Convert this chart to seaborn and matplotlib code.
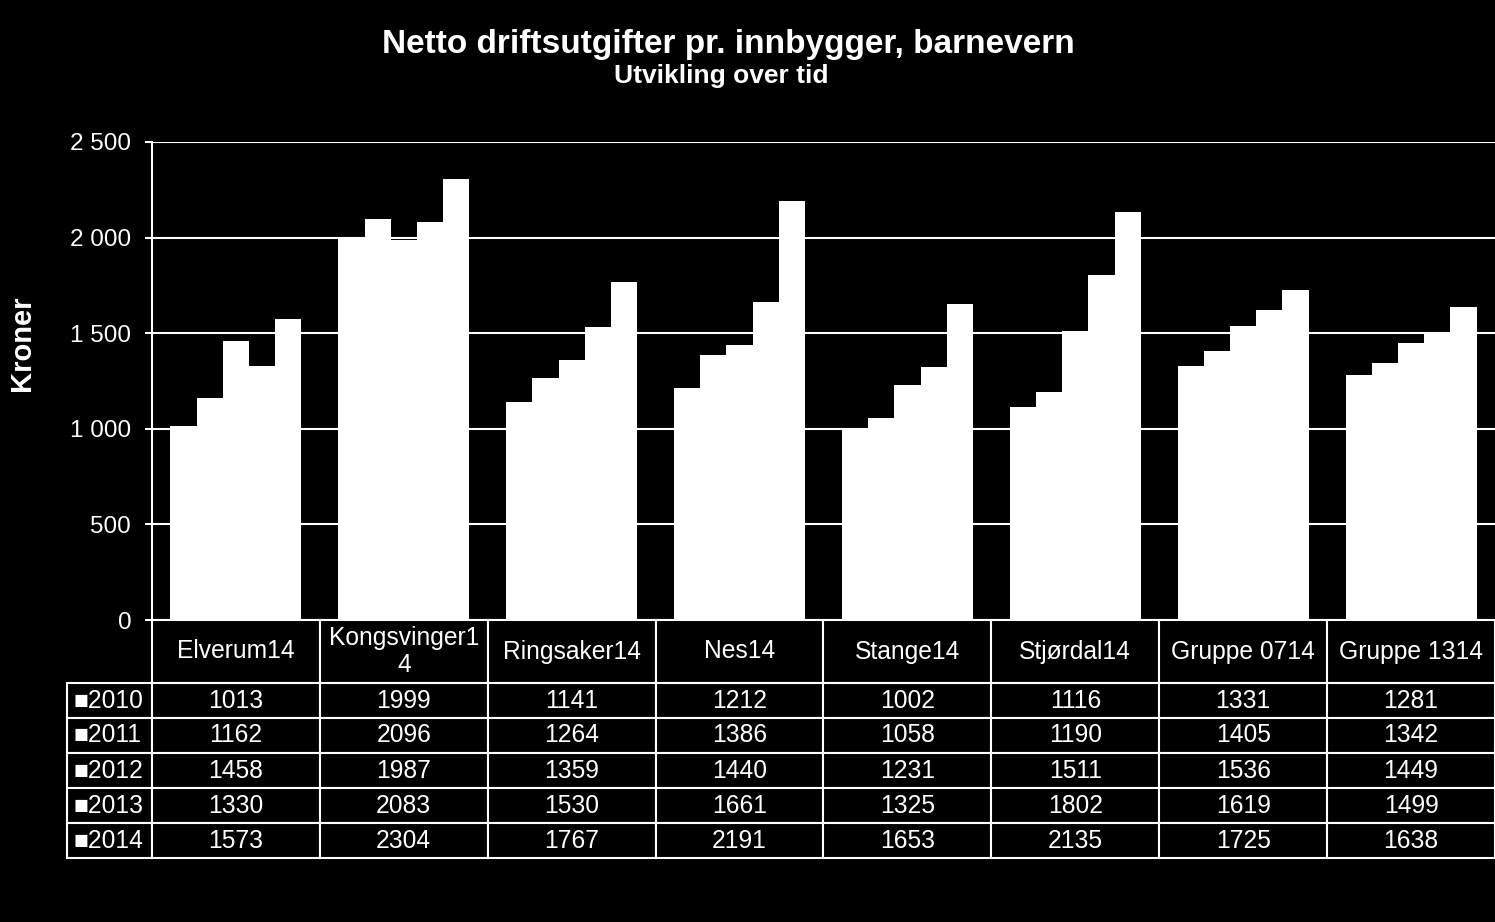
import matplotlib
matplotlib.use("Agg")
import matplotlib.pyplot as plt
import seaborn as sns
import pandas as pd
from matplotlib.table import Table
from matplotlib.ticker import FuncFormatter, MultipleLocator

categories = ["Elverum14", "Kongsvinger14", "Ringsaker14", "Nes14", "Stange14",
              "Stjørdal14", "Gruppe 0714", "Gruppe 1314"]
header_labels = ["Elverum14", "Kongsvinger1\n4", "Ringsaker14", "Nes14", "Stange14",
                 "Stjørdal14", "Gruppe 0714", "Gruppe 1314"]
years = ["2010", "2011", "2012", "2013", "2014"]
v2010 = [1013, 1999, 1141, 1212, 1002, 1116, 1331, 1281]
v2011 = [1162, 2096, 1264, 1386, 1058, 1190, 1405, 1342]
v2012 = [1458, 1987, 1359, 1440, 1231, 1511, 1536, 1449]
v2013 = [1330, 2083, 1530, 1661, 1325, 1802, 1619, 1499]
v2014 = [1573, 2304, 1767, 2191, 1653, 2135, 1725, 1638]
series = [v2010, v2011, v2012, v2013, v2014]

rows = []
for y, vals in zip(years, series):
    for c, v in zip(categories, vals):
        rows.append({"Kommune": c, "År": y, "Kroner": v})
df = pd.DataFrame(rows)

sns.set_style("dark", {"axes.facecolor": "black", "figure.facecolor": "black",
                       "axes.edgecolor": "white", "grid.color": "white",
                       "text.color": "white", "xtick.color": "white",
                       "ytick.color": "white", "axes.labelcolor": "white"})
plt.rcParams["font.family"] = ["Liberation Sans", "DejaVu Sans"]

W, H = 1495, 922
fig = plt.figure(figsize=(W / 100, H / 100), dpi=100, facecolor="black")
ax = fig.add_axes([152 / W, 1 - 620 / H, (W - 152) / W, (620 - 142) / H])
ax.set_facecolor("black")

sns.barplot(data=df, x="Kommune", y="Kroner", hue="År", order=categories,
            hue_order=years, palette=["white"] * 5, width=0.78, gap=0,
            saturation=1, edgecolor="none", linewidth=0, legend=False, ax=ax, zorder=3)

ax.set_xlim(-0.5, len(categories) - 0.5)
ax.set_ylim(0, 2500)
ax.yaxis.set_major_locator(MultipleLocator(500))
ax.yaxis.set_major_formatter(FuncFormatter(lambda v, p: f"{int(v):,}".replace(",", " ")))
ax.grid(axis="y", color="white", linewidth=1.5, zorder=0)
ax.grid(axis="x", visible=False)
ax.set_axisbelow(True)
for s in ["top", "right", "bottom"]:
    ax.spines[s].set_visible(False)
ax.spines["left"].set_color("white")
ax.spines["left"].set_linewidth(1.5)
ax.tick_params(axis="y", colors="white", labelsize=17.5, length=5, width=1.5, left=True, pad=10)
ax.tick_params(axis="x", bottom=False, labelbottom=False)
ax.set_xlabel("")
ax.set_ylabel("Kroner", fontsize=21, fontweight="bold", color="white")
ax.yaxis.set_label_coords(-0.0968, 0.58)
ax.yaxis.label.set_verticalalignment("center")

# data table
tab_ax = fig.add_axes([67 / W, 1 - 858 / H, (W - 67) / W, (858 - 620) / H])
tab_ax.axis("off")
tbl = Table(tab_ax, bbox=[0, 0, 1, 1])
lab_w, col_w, head_h, row_h = 85, 168, 63, 35
corner = tbl.add_cell(0, 0, lab_w, head_h, text="", facecolor="black", edgecolor="black")
corner.visible_edges = ""
for j, lab in enumerate(header_labels):
    tbl.add_cell(0, j + 1, col_w, head_h, text=lab, loc="center",
                 facecolor="black", edgecolor="white")
for i, (y, vals) in enumerate(zip(years, series)):
    tbl.add_cell(i + 1, 0, lab_w, row_h, text="■" + y, loc="left",
                 facecolor="black", edgecolor="white")
    for j, v in enumerate(vals):
        tbl.add_cell(i + 1, j + 1, col_w, row_h, text=str(v), loc="center",
                     facecolor="black", edgecolor="white")
tbl.auto_set_font_size(False)
for (r, c), cell in tbl.get_celld().items():
    cell.set_linewidth(1.5)
    cell.get_text().set_color("white")
    cell.get_text().set_fontsize(17.7)
    if c == 0:
        cell.PAD = 0.08
tab_ax.add_table(tbl)

fig.text(728 / W, 1 - 44 / H, "Netto driftsutgifter pr. innbygger, barnevern",
         ha="center", va="center", fontsize=24, fontweight="bold", color="white")
fig.text(721 / W, 1 - 76 / H, "Utvikling over tid",
         ha="center", va="center", fontsize=19, fontweight="bold", color="white")

fig.savefig("out.png", dpi=100, facecolor="black")
